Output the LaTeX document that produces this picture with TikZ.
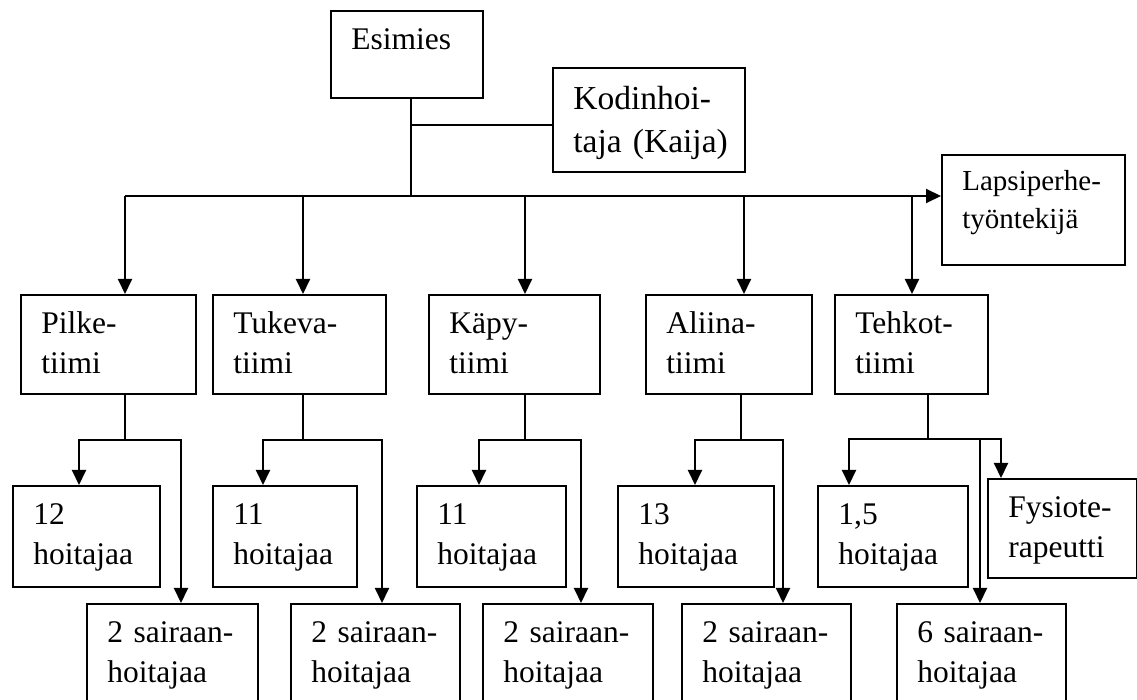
\documentclass[tikz,border=0pt]{standalone}
\usepackage{fontspec}
\setmainfont{Liberation Serif}
\usetikzlibrary{arrows.meta,calc}

\tikzset{
  laatikko/.style 2 args={draw, line width=1pt, anchor=north west, inner sep=0pt,
    minimum width=#1*0.5pt, minimum height=#2*0.5pt},
  tekstipohja/.style={anchor=base west, inner sep=0pt, align=left, text width=90pt,
    xshift=10.5pt, yshift=-20pt, font=\fontsize{15.75}{20}\selectfont},
  teksti/.style={label={[tekstipohja]north west:#1}},
  viiva/.style={line width=1pt},
  nuoli/.style={line width=1pt, -{Triangle[length=7.5pt,width=7pt]}},
}

\begin{document}
\begin{tikzpicture}[x=0.5pt,y=-0.5pt]
\path[use as bounding box, clip] (0,0) rectangle (1137,700);

% ylin taso
\node[laatikko={152}{87}, teksti={Esimies}] (esimies) at (330,10) {};
\node[laatikko={192}{104}, label={[tekstipohja, yshift=-1.5pt, font=\fontsize{16.75}{21.5}\selectfont]north west:Kodinhoi-\\taja (Kaija)}] (kodin) at (552,67) {};
\node[laatikko={183}{110}, label={[tekstipohja, yshift=1.5pt, font=\fontsize{14.5}{19}\selectfont]north west:Lapsiperhe-\\työntekijä}] (lapsi) at (941,154) {};

% tiimit
\node[laatikko={175}{99}, teksti={Pilke-\\tiimi}] (pilke) at (20,294) {};
\node[laatikko={173}{99}, teksti={Tukeva-\\tiimi}] (tukeva) at (212,294) {};
\node[laatikko={171}{99}, teksti={Käpy-\\tiimi}] (kapy) at (428,294) {};
\node[laatikko={166}{99}, teksti={Aliina-\\tiimi}] (aliina) at (645,294) {};
\node[laatikko={153}{99}, teksti={Tehkot-\\tiimi}] (tehkot) at (834,294) {};

% hoitajat
\node[laatikko={147}{101}, teksti={12\\hoitajaa}] (h-pilke) at (12,485) {};
\node[laatikko={144}{101}, teksti={11\\hoitajaa}] (h-tukeva) at (212,485) {};
\node[laatikko={149}{101}, teksti={11\\hoitajaa}] (h-kapy) at (416,485) {};
\node[laatikko={156}{101}, teksti={13\\hoitajaa}] (h-aliina) at (617,485) {};
\node[laatikko={150}{101}, teksti={{1,5}\\hoitajaa}] (h-tehkot) at (817,485) {};
\node[laatikko={149}{99}, teksti={Fysiote-\\rapeutti}] (fysio) at (987,478) {};

% sairaanhoitajat
\node[laatikko={171}{120}, teksti={2 sairaan-\\hoitajaa}] (s-pilke) at (86,603) {};
\node[laatikko={169}{120}, teksti={2 sairaan-\\hoitajaa}] (s-tukeva) at (290,603) {};
\node[laatikko={170}{120}, teksti={2 sairaan-\\hoitajaa}] (s-kapy) at (482,603) {};
\node[laatikko={169}{120}, teksti={2 sairaan-\\hoitajaa}] (s-aliina) at (681,603) {};
\node[laatikko={169}{120}, teksti={6 sairaan-\\hoitajaa}] (s-tehkot) at (896,603) {};

% yhteydet ylhaalla
\coordinate (haara) at (411,196);
\coordinate (kodinhaara) at (411,125);
\draw[viiva] (esimies.south -| haara) -- (haara);
\draw[viiva] (kodinhaara) -- (kodinhaara -| kodin.west);
\draw[viiva] (haara) -- (haara -| 125,0);
\draw[nuoli] (haara) -- (lapsi.west |- haara);
\foreach \tiimi/\x in {pilke/125, tukeva/303, kapy/525, aliina/744, tehkot/912}
  \draw[nuoli] (haara -| \x,0) -- (\tiimi.north -| \x,0);

% tiimeista alas
\foreach \tiimi/\s/\v/\o in {pilke/125/79/181, tukeva/303/263/382, kapy/525/479/581, aliina/741/695/783}{
  \coordinate (j-\tiimi) at (\s,440);
  \draw[viiva] (\tiimi.south -| j-\tiimi) -- (j-\tiimi);
  \draw[nuoli] (j-\tiimi) -| (h-\tiimi.north -| \v,0);
  \draw[nuoli] (j-\tiimi) -| (s-\tiimi.north -| \o,0);
}
\coordinate (j-tehkot) at (928,439);
\draw[viiva] (tehkot.south -| j-tehkot) -- (j-tehkot);
\draw[nuoli] (j-tehkot) -| (h-tehkot.north -| 849,0);
\draw[nuoli] (j-tehkot) -| (fysio.north -| 1001,0);
\draw[nuoli] (j-tehkot -| 980,0) -- (s-tehkot.north -| 980,0);
\end{tikzpicture}
\end{document}
